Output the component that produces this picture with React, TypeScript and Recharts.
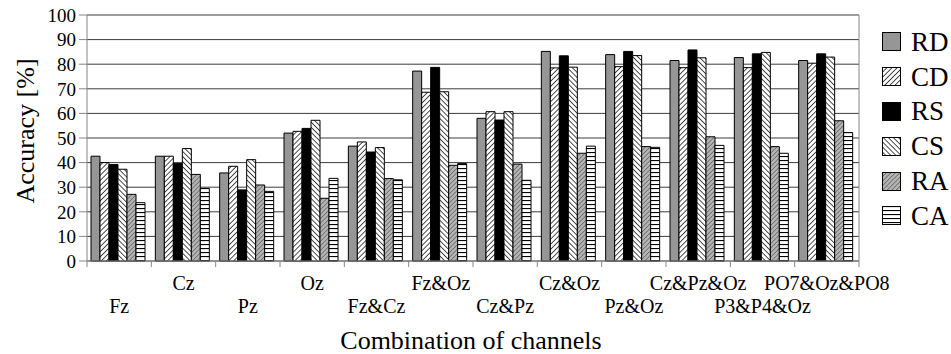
import { BarChart, Bar, XAxis, YAxis, CartesianGrid } from 'recharts';

const categories = ['Fz', 'Cz', 'Pz', 'Oz', 'Fz&Cz', 'Fz&Oz', 'Cz&Pz', 'Cz&Oz', 'Pz&Oz', 'Cz&Pz&Oz', 'P3&P4&Oz', 'PO7&Oz&PO8'];
const rd = [42.6, 42.6, 35.8, 52.0, 46.7, 77.2, 58.0, 85.2, 83.9, 81.5, 82.7, 81.5];
const cd = [40.0, 42.6, 38.5, 52.7, 48.4, 68.6, 60.7, 78.5, 79.0, 78.6, 78.6, 80.4];
const rs = [39.2, 39.6, 28.9, 53.9, 44.3, 78.7, 57.3, 83.4, 85.2, 85.8, 84.2, 84.2];
const cs = [37.3, 45.7, 41.2, 57.2, 46.1, 68.8, 60.7, 78.8, 83.5, 82.6, 84.8, 82.9];
const ra = [27.1, 35.2, 30.9, 25.5, 33.5, 38.9, 39.4, 43.8, 46.5, 50.5, 46.5, 57.0];
const ca = [23.7, 29.5, 28.3, 33.6, 33.0, 39.6, 32.8, 46.7, 46.2, 47.0, 43.8, 52.2];
const yTicks = [0, 10, 20, 30, 40, 50, 60, 70, 80, 90, 100];

const series = [
  { key: 'RD', values: rd, fill: '#969696' },
  { key: 'CD', values: cd, fill: 'url(#hatchCD)' },
  { key: 'RS', values: rs, fill: '#000000' },
  { key: 'CS', values: cs, fill: 'url(#hatchCS)' },
  { key: 'RA', values: ra, fill: 'url(#hatchRA)' },
  { key: 'CA', values: ca, fill: 'url(#hatchCA)' },
];

const data = categories.map((name, i) => {
  const row: any = { name };
  series.forEach((s) => {
    row[s.key] = s.values[i];
  });
  return row;
});

const W = 951;
const H = 354;
const margin = { top: 15, right: 91, bottom: 0, left: 0 };
const Y_W = 87;
const RIGHT_W = 1;
const band = (W - margin.left - margin.right - Y_W - RIGHT_W) / categories.length;
const FONT = 'Liberation Serif, Times New Roman, serif';

const Patterns = () => (
  <svg width={0} height={0} style={{ position: 'absolute' }}>
    <defs>
      <pattern id="hatchCD" width={3.6} height={3.6} patternUnits="userSpaceOnUse" patternTransform="rotate(45)">
        <rect width={3.6} height={3.6} fill="#fff" />
        <line x1={0} y1={0} x2={0} y2={3.6} stroke="#000" strokeWidth={1.4} />
      </pattern>
      <pattern id="hatchCS" width={3.6} height={3.6} patternUnits="userSpaceOnUse" patternTransform="rotate(-45)">
        <rect width={3.6} height={3.6} fill="#fff" />
        <line x1={0} y1={0} x2={0} y2={3.6} stroke="#000" strokeWidth={1.4} />
      </pattern>
      <pattern id="hatchRA" width={3.2} height={3.2} patternUnits="userSpaceOnUse" patternTransform="rotate(45)">
        <rect width={3.2} height={3.2} fill="#b4b4b4" />
        <line x1={0} y1={0} x2={0} y2={3.2} stroke="#3a3a3a" strokeWidth={1} />
      </pattern>
      <pattern id="hatchCA" width={4} height={4} patternUnits="userSpaceOnUse">
        <rect width={4} height={4} fill="#fff" />
        <line x1={0} y1={0.5} x2={4} y2={0.5} stroke="#000" strokeWidth={1.2} />
      </pattern>
    </defs>
  </svg>
);

const CategoryTick = (props: any) => {
  const { x, y, payload, index } = props;
  const left = x - band / 2;
  const right = x + band / 2;
  const last = index === categories.length - 1;
  return (
    <g>
      <line x1={left} y1={y} x2={left} y2={y + 6} stroke="#868686" />
      {last && <line x1={right} y1={y} x2={right} y2={y + 6} stroke="#868686" />}
      <text
        x={x}
        y={y + (index % 2 === 1 ? 29 : 52)}
        textAnchor="middle"
        style={{ fontFamily: FONT, fontSize: 20 }}
        fill="#000"
      >
        {payload.value}
      </text>
    </g>
  );
};

const YTitle = (props: any) => {
  const vb = props.viewBox;
  const cx = 25;
  const cy = vb.y + vb.height / 2 - 7;
  return (
    <text
      x={cx}
      y={cy}
      transform={`rotate(-90, ${cx}, ${cy})`}
      textAnchor="middle"
      dominantBaseline="central"
      style={{ fontFamily: FONT, fontSize: 26 }}
      fill="#000"
    >
      Accuracy [%]
    </text>
  );
};

const XTitle = (props: any) => {
  const vb = props.viewBox;
  return (
    <text
      x={vb.x + vb.width / 2 - 2}
      y={vb.y + vb.height - 5}
      textAnchor="middle"
      style={{ fontFamily: FONT, fontSize: 26 }}
      fill="#000"
    >
      Combination of channels
    </text>
  );
};

const ChannelLegend = () => (
  <div style={{ position: 'absolute', left: 882, top: 25, fontFamily: FONT, fontSize: 27 }}>
    {series.map((s) => (
      <div key={s.key} style={{ display: 'flex', alignItems: 'center', height: 34.8 }}>
        <svg width={20} height={20} style={{ marginRight: 9 }}>
          <rect x={0.5} y={0.5} width={18} height={18} fill={s.fill} stroke="#000" />
        </svg>
        <span style={{ lineHeight: 1 }}>{s.key}</span>
      </div>
    ))}
  </div>
);

export default function App() {
  return (
    <div style={{ position: 'absolute', left: 0, top: 0, width: W, height: H, background: '#fff' }}>
      <Patterns />
      <BarChart width={W} height={H} data={data} margin={margin} barCategoryGap={4} barGap={0}>
        <CartesianGrid vertical={false} stroke="#3c3c3c" />
        <XAxis
          dataKey="name"
          height={93}
          interval={0}
          tickSize={0}
          tickMargin={0}
          tickLine={false}
          stroke="#868686"
          tick={<CategoryTick />}
          label={XTitle}
        />
        <YAxis
          width={Y_W}
          domain={[0, 100]}
          ticks={yTicks}
          interval={0}
          tickSize={8}
          tickMargin={3}
          stroke="#868686"
          tick={{ fill: '#000', fontSize: 19, fontFamily: FONT }}
          label={YTitle}
        />
        <YAxis yAxisId="right" orientation="right" width={RIGHT_W} tick={false} tickLine={false} stroke="#868686" />
        {series.map((s) => (
          <Bar key={s.key} dataKey={s.key} fill={s.fill} stroke="#000" strokeWidth={1} isAnimationActive={false} />
        ))}
      </BarChart>
      <ChannelLegend />
    </div>
  );
}
